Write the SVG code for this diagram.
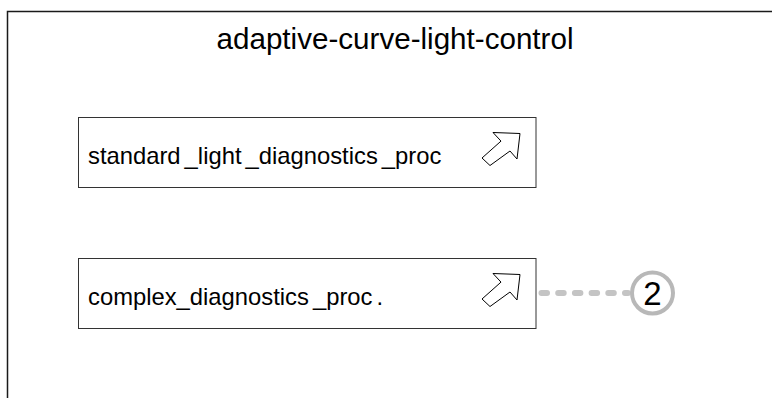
<svg xmlns="http://www.w3.org/2000/svg" width="772" height="398" viewBox="0 0 772 398">
  <style>
    .frame { fill: none; stroke: #1a1a1a; stroke-width: 1.5; }
    .box { fill: #ffffff; stroke: #333333; stroke-width: 1; }
    .title { font-family: "Liberation Sans", Arial, sans-serif; font-size: 29.6px; fill: #000000; }
    .label { font-family: "Liberation Sans", Arial, sans-serif; font-size: 23.8px; fill: #000000; }
    .icon { fill: #ffffff; stroke: #000000; stroke-width: 1; stroke-linejoin: miter; }
    .conn { fill: none; stroke: #c4c4c4; stroke-width: 6; stroke-linecap: round; stroke-dasharray: 5.5 11.2; }
    .badge { fill: #ffffff; stroke: #b8b8b8; stroke-width: 4; }
    .badgetext { font-family: "Liberation Sans", Arial, sans-serif; font-size: 33px; fill: #000000; }
  </style>
  <defs>
    <polygon id="arrowIcon" points="-27,-1 0,0 -3,25.5 -10,17.5 -30,32 -38,24.5 -19,7.6"/>
  </defs>
  <rect x="0" y="0" width="772" height="398" fill="#ffffff"/>
  <g id="frame">
    <path class="frame" d="M7.5,398 V11.5 H772"/>
    <text class="title" x="395" y="49" text-anchor="middle">adaptive-curve-light-control</text>
  </g>
  <g id="connectors">
    <line class="conn" x1="541.5" y1="293" x2="628" y2="293"/>
  </g>
  <g id="node-standard">
    <rect class="box" x="78.5" y="117.5" width="457.5" height="70"/>
    <text class="label" x="88" y="164">standard<tspan dx="4">_</tspan>light<tspan dx="4">_</tspan>diagnostics<tspan dx="4">_</tspan>proc</text>
    <use href="#arrowIcon" class="icon" transform="translate(520,133.5)"/>
  </g>
  <g id="node-complex">
    <rect class="box" x="78.5" y="258.5" width="457.5" height="70"/>
    <text class="label" x="88" y="305">complex_diagnostics<tspan dx="4">_</tspan>proc<tspan dx="4">.</tspan></text>
    <use href="#arrowIcon" class="icon" transform="translate(520,274.5)"/>
  </g>
  <g id="badge-2">
    <circle class="badge" cx="652.5" cy="293" r="20.5"/>
    <text class="badgetext" x="652.5" y="305" text-anchor="middle">2</text>
  </g>
</svg>
